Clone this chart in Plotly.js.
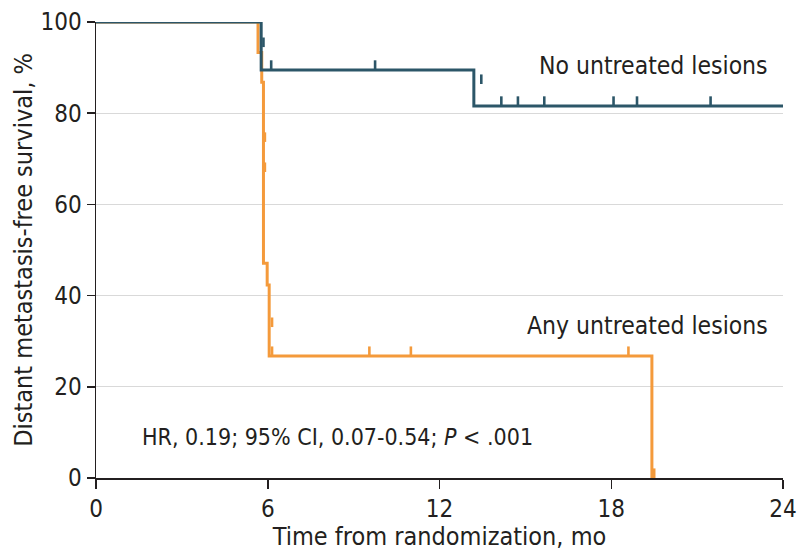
<!DOCTYPE html>
<html>
<head>
<meta charset="utf-8">
<script src="https://cdn.plot.ly/plotly-3.0.1.min.js"></script>
<style>
  html, body { margin: 0; padding: 0; background: #ffffff; }
  #chart { width: 800px; height: 551px; }
</style>
</head>
<body>
<div id="chart"></div>
<script>
// Kaplan-Meier step curves: time (months) and survival (%)
const anyTime = [0, 5.66, 5.79, 5.85, 5.98, 6.05, 19.42];
const anySurv = [100, 93.3, 86.8, 47.1, 42.3, 26.75, 0];
const noneTime = [0, 5.77, 13.2, 24];
const noneSurv = [100, 89.5, 81.6, 81.6];

// Censored observations (time, survival level at censoring)
const anyCensorTime = [5.9, 5.9, 6.15, 6.15, 9.55, 11.0, 18.6, 19.5];
const anyCensorSurv = [73.7, 67.1, 33.1, 26.75, 26.75, 26.75, 26.75, 0];
const noneCensorTime = [5.85, 6.12, 9.75, 13.46, 14.16, 14.74, 15.66, 18.08, 18.9, 21.47];
const noneCensorSurv = [94.5, 89.5, 89.5, 86.4, 81.6, 81.6, 81.6, 81.6, 81.6, 81.6];

const xTicks = [0, 6, 12, 18, 24];
const yTicks = [0, 20, 40, 60, 80, 100];

const groupLabels = ['Any untreated lesions', 'No untreated lesions'];
const statText = 'HR, 0.19; 95% CI, 0.07-0.54; <i>P</i> &lt; .001';

const ORANGE = '#f49a3b';
const TEAL = '#2c5668';
const FONT = 'DejaVu Sans Condensed, Liberation Sans Narrow, Roboto, sans-serif';
const TXT = '#231f20';

// censor marks drawn as short upward ticks from the curve
function censorTrace(t, s, color) {
  return {
    x: t, y: s, type: 'scatter', mode: 'markers',
    marker: { size: 1, color: color, opacity: 0 },
    error_y: { type: 'constant', symmetric: false, value: 2.1, valueminus: 0,
               width: 0, thickness: 2.6, color: color },
    hoverinfo: 'skip', showlegend: false, cliponaxis: false
  };
}

const traces = [
  { x: anyTime, y: anySurv, type: 'scatter', mode: 'lines',
    line: { shape: 'hv', color: ORANGE, width: 3 }, name: groupLabels[0], showlegend: false },
  censorTrace(anyCensorTime, anyCensorSurv, ORANGE),
  { x: noneTime, y: noneSurv, type: 'scatter', mode: 'lines',
    line: { shape: 'hv', color: TEAL, width: 3 }, name: groupLabels[1], showlegend: false },
  censorTrace(noneCensorTime, noneCensorSurv, TEAL)
];

const layout = {
  width: 800, height: 551,
  margin: { l: 96, r: 17, t: 22, b: 73 },
  paper_bgcolor: '#ffffff', plot_bgcolor: '#ffffff',
  font: { family: FONT, color: TXT, size: 24 },
  xaxis: {
    range: [0, 24], tickvals: xTicks, ticktext: xTicks.map(String),
    showgrid: false, zeroline: false,
    showline: true, linecolor: '#231f20', linewidth: 1.5,
    ticks: 'outside', ticklen: 9, tickwidth: 1.5, tickcolor: '#231f20',
    tickfont: { size: 24, family: FONT, color: TXT },
    title: { text: 'Time from randomization, mo', font: { size: 25, family: FONT, color: TXT }, standoff: 4 },
    fixedrange: true
  },
  yaxis: {
    range: [0, 100], tickvals: yTicks, ticktext: yTicks.map(String),
    showgrid: true, gridcolor: '#d9d9d9', gridwidth: 1, zeroline: false,
    showline: true, linecolor: '#231f20', linewidth: 1.5,
    ticks: 'outside', ticklen: 8, tickwidth: 1.5, tickcolor: '#231f20',
    tickfont: { size: 24, family: FONT, color: TXT },
    title: { text: 'Distant metastasis-free survival, %', font: { size: 25, family: FONT, color: TXT }, standoff: 0 },
    fixedrange: true
  },
  annotations: [
    { x: 23.55, y: 90.4, xref: 'x', yref: 'y', text: groupLabels[1], showarrow: false,
      xanchor: 'right', yanchor: 'middle', font: { size: 24.5, family: FONT, color: TXT } },
    { x: 23.55, y: 33.5, xref: 'x', yref: 'y', text: groupLabels[0], showarrow: false,
      xanchor: 'right', yanchor: 'middle', font: { size: 24.5, family: FONT, color: TXT } },
    { x: 1.54, y: 9.0, xref: 'x', yref: 'y', text: statText, showarrow: false,
      xanchor: 'left', yanchor: 'middle', font: { size: 23, family: FONT, color: TXT } }
  ]
};

Plotly.newPlot('chart', traces, layout, { displayModeBar: false, staticPlot: true });
</script>
</body>
</html>
